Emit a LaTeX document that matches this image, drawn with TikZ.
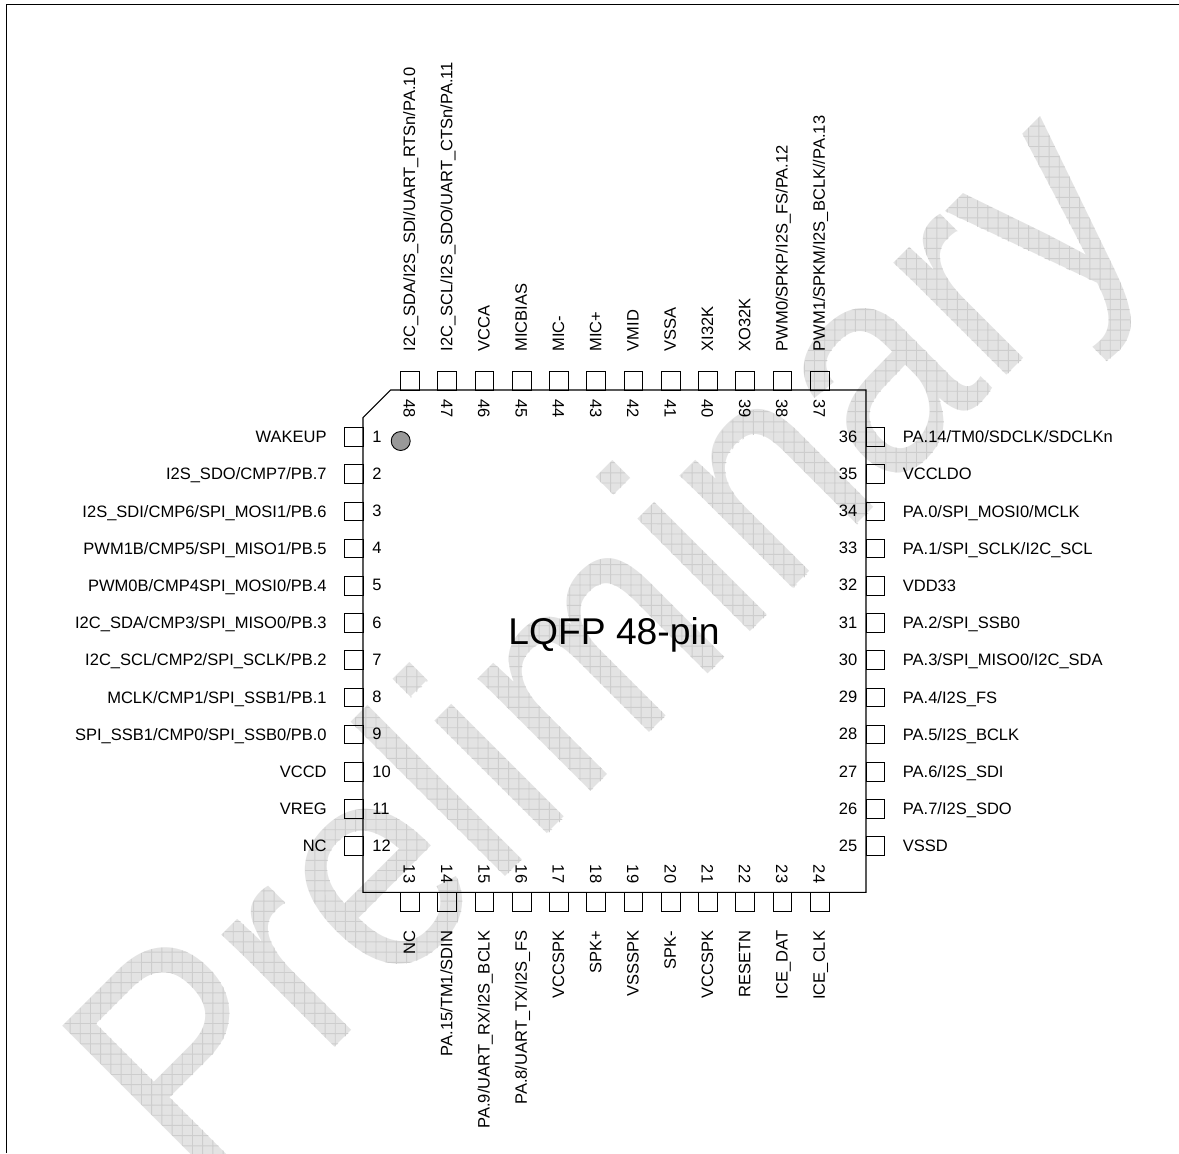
\documentclass[tikz,border=0pt]{standalone}
\usepackage{fontspec}
\setmainfont{Liberation Sans}
\usepackage{color}
\definecolor{WmFill}{RGB}{227,227,227}
\definecolor{WmGrid}{RGB}{205,205,205}
\definecolor{DotFill}{RGB}{153,153,153}
\tikzset{
  pinbox/.style={draw=black, line width=0.5pt, inner sep=0pt, minimum size=0.372cm},
  pintext/.style={inner sep=0pt, text height=7pt, text depth=0.8pt, font=\fontsize{9.4}{11}\selectfont},
  pinnum/.style={inner sep=0pt, font=\fontsize{9.4}{11}\selectfont},
}

\begin{document}
\begin{tikzpicture}[x=0.02cm, y=-0.02cm]
  \useasboundingbox (0, 0) rectangle (1179, 1153);

  % watermark: painted text, then the grid through it
  \node[transform shape, rotate=45, yscale=1.11, anchor=base west, inner sep=0pt, text=WmFill, font=\fontsize{154.5}{155}\selectfont] (wmark) at (192.5, 1189) {\special{pdf:code 4 Tr}\rlap{Preliminary}\special{pdf:code 0 Tr}\tikz[overlay, yscale=0.901, rotate=-45, shift={(-0.018cm,0.03cm)}]{\draw[WmGrid, line width=0.5pt] (-30cm,-30cm) grid[step=0.204cm] (30cm,30cm);}};

  \draw[black, line width=0.9pt] (6.4, 1153) -- (6.4, 4.4) -- (1179, 4.4);

  \draw[black, line width=0.6pt] (390.7, 390) -- (866, 390) -- (866, 892.3) -- (363, 892.3) -- (363, 417.5) -- cycle;
  \node[draw=black, line width=0.5pt, fill=DotFill, circle, inner sep=0pt, minimum size=0.38cm] (dot) at (400.7, 441) {};
  \node[inner sep=0pt, font=\fontsize{21.2}{24}\selectfont] (title) at (614, 635) {LQFP 48-pin};

  % left side
  \node[pinbox] (p1)  at (354, 437.0) {}; \node[pinnum, anchor=west] (n1)  at (372, 436.5) {1};  \node[pintext, anchor=east] (l1)  at (327, 437.2) {WAKEUP};
  \node[pinbox] (p2)  at (354, 474.2) {}; \node[pinnum, anchor=west] (n2)  at (372, 473.7) {2};  \node[pintext, anchor=east] (l2)  at (327, 474.4) {I2S\_SDO/CMP7/PB.7};
  \node[pinbox] (p3)  at (354, 511.4) {}; \node[pinnum, anchor=west] (n3)  at (372, 510.9) {3};  \node[pintext, anchor=east] (l3)  at (327, 511.6) {I2S\_SDI/CMP6/SPI\_MOSI1/PB.6};
  \node[pinbox] (p4)  at (354, 548.6) {}; \node[pinnum, anchor=west] (n4)  at (372, 548.1) {4};  \node[pintext, anchor=east] (l4)  at (327, 548.8) {PWM1B/CMP5/SPI\_MISO1/PB.5};
  \node[pinbox] (p5)  at (354, 585.8) {}; \node[pinnum, anchor=west] (n5)  at (372, 585.3) {5};  \node[pintext, anchor=east] (l5)  at (327, 586.0) {PWM0B/CMP4SPI\_MOSI0/PB.4};
  \node[pinbox] (p6)  at (354, 623.0) {}; \node[pinnum, anchor=west] (n6)  at (372, 622.5) {6};  \node[pintext, anchor=east] (l6)  at (327, 623.2) {I2C\_SDA/CMP3/SPI\_MISO0/PB.3};
  \node[pinbox] (p7)  at (354, 660.2) {}; \node[pinnum, anchor=west] (n7)  at (372, 659.7) {7};  \node[pintext, anchor=east] (l7)  at (327, 660.4) {I2C\_SCL/CMP2/SPI\_SCLK/PB.2};
  \node[pinbox] (p8)  at (354, 697.4) {}; \node[pinnum, anchor=west] (n8)  at (372, 696.9) {8};  \node[pintext, anchor=east] (l8)  at (327, 697.6) {MCLK/CMP1/SPI\_SSB1/PB.1};
  \node[pinbox] (p9)  at (354, 734.6) {}; \node[pinnum, anchor=west] (n9)  at (372, 734.1) {9};  \node[pintext, anchor=east] (l9)  at (327, 734.8) {SPI\_SSB1/CMP0/SPI\_SSB0/PB.0};
  \node[pinbox] (p10) at (354, 771.8) {}; \node[pinnum, anchor=west] (n10) at (372, 771.3) {10}; \node[pintext, anchor=east] (l10) at (327, 772.0) {VCCD};
  \node[pinbox] (p11) at (354, 809.0) {}; \node[pinnum, anchor=west] (n11) at (372, 808.5) {11}; \node[pintext, anchor=east] (l11) at (327, 809.2) {VREG};
  \node[pinbox] (p12) at (354, 846.2) {}; \node[pinnum, anchor=west] (n12) at (372, 845.7) {12}; \node[pintext, anchor=east] (l12) at (327, 846.4) {NC};

  % bottom side
  \node[pinbox] (p13) at (409.9, 902) {}; \node[pinnum, rotate=-90] (n13) at (409.4, 874) {13}; \node[pintext, rotate=90, anchor=east] (l13) at (409.6, 930.5) {NC};
  \node[pinbox] (p14) at (447.2, 902) {}; \node[pinnum, rotate=-90] (n14) at (446.7, 874) {14}; \node[pintext, rotate=90, anchor=east] (l14) at (446.9, 930.5) {PA.15/TM1/SDIN};
  \node[pinbox] (p15) at (484.4, 902) {}; \node[pinnum, rotate=-90] (n15) at (483.9, 874) {15}; \node[pintext, rotate=90, anchor=east] (l15) at (484.1, 930.5) {PA.9/UART\_RX/I2S\_BCLK};
  \node[pinbox] (p16) at (521.7, 902) {}; \node[pinnum, rotate=-90] (n16) at (521.2, 874) {16}; \node[pintext, rotate=90, anchor=east] (l16) at (521.4, 930.5) {PA.8/UART\_TX/I2S\_FS};
  \node[pinbox] (p17) at (558.9, 902) {}; \node[pinnum, rotate=-90] (n17) at (558.4, 874) {17}; \node[pintext, rotate=90, anchor=east] (l17) at (558.6, 930.5) {VCCSPK};
  \node[pinbox] (p18) at (596.2, 902) {}; \node[pinnum, rotate=-90] (n18) at (595.7, 874) {18}; \node[pintext, rotate=90, anchor=east] (l18) at (595.9, 930.5) {SPK+};
  \node[pinbox] (p19) at (633.4, 902) {}; \node[pinnum, rotate=-90] (n19) at (632.9, 874) {19}; \node[pintext, rotate=90, anchor=east] (l19) at (633.1, 930.5) {VSSSPK};
  \node[pinbox] (p20) at (670.7, 902) {}; \node[pinnum, rotate=-90] (n20) at (670.2, 874) {20}; \node[pintext, rotate=90, anchor=east] (l20) at (670.4, 930.5) {SPK-};
  \node[pinbox] (p21) at (707.9, 902) {}; \node[pinnum, rotate=-90] (n21) at (707.4, 874) {21}; \node[pintext, rotate=90, anchor=east] (l21) at (707.6, 930.5) {VCCSPK};
  \node[pinbox] (p22) at (745.2, 902) {}; \node[pinnum, rotate=-90] (n22) at (744.7, 874) {22}; \node[pintext, rotate=90, anchor=east] (l22) at (744.9, 930.5) {RESETN};
  \node[pinbox] (p23) at (782.4, 902) {}; \node[pinnum, rotate=-90] (n23) at (781.9, 874) {23}; \node[pintext, rotate=90, anchor=east] (l23) at (782.1, 930.5) {ICE\_DAT};
  \node[pinbox] (p24) at (819.7, 902) {}; \node[pinnum, rotate=-90] (n24) at (819.2, 874) {24}; \node[pintext, rotate=90, anchor=east] (l24) at (819.4, 930.5) {ICE\_CLK};

  % right side
  \node[pinbox] (p25) at (875.5, 846.2) {}; \node[pinnum] (n25) at (848, 845.7) {25}; \node[pintext, anchor=west] (l25) at (902.5, 846.4) {VSSD};
  \node[pinbox] (p26) at (875.5, 809.0) {}; \node[pinnum] (n26) at (848, 808.5) {26}; \node[pintext, anchor=west] (l26) at (902.5, 809.2) {PA.7/I2S\_SDO};
  \node[pinbox] (p27) at (875.5, 771.8) {}; \node[pinnum] (n27) at (848, 771.3) {27}; \node[pintext, anchor=west] (l27) at (902.5, 772.0) {PA.6/I2S\_SDI};
  \node[pinbox] (p28) at (875.5, 734.6) {}; \node[pinnum] (n28) at (848, 734.1) {28}; \node[pintext, anchor=west] (l28) at (902.5, 734.8) {PA.5/I2S\_BCLK};
  \node[pinbox] (p29) at (875.5, 697.4) {}; \node[pinnum] (n29) at (848, 696.9) {29}; \node[pintext, anchor=west] (l29) at (902.5, 697.6) {PA.4/I2S\_FS};
  \node[pinbox] (p30) at (875.5, 660.2) {}; \node[pinnum] (n30) at (848, 659.7) {30}; \node[pintext, anchor=west] (l30) at (902.5, 660.4) {PA.3/SPI\_MISO0/I2C\_SDA};
  \node[pinbox] (p31) at (875.5, 623.0) {}; \node[pinnum] (n31) at (848, 622.5) {31}; \node[pintext, anchor=west] (l31) at (902.5, 623.2) {PA.2/SPI\_SSB0};
  \node[pinbox] (p32) at (875.5, 585.8) {}; \node[pinnum] (n32) at (848, 585.3) {32}; \node[pintext, anchor=west] (l32) at (902.5, 586.0) {VDD33};
  \node[pinbox] (p33) at (875.5, 548.6) {}; \node[pinnum] (n33) at (848, 548.1) {33}; \node[pintext, anchor=west] (l33) at (902.5, 548.8) {PA.1/SPI\_SCLK/I2C\_SCL};
  \node[pinbox] (p34) at (875.5, 511.4) {}; \node[pinnum] (n34) at (848, 510.9) {34}; \node[pintext, anchor=west] (l34) at (902.5, 511.6) {PA.0/SPI\_MOSI0/MCLK};
  \node[pinbox] (p35) at (875.5, 474.2) {}; \node[pinnum] (n35) at (848, 473.7) {35}; \node[pintext, anchor=west] (l35) at (902.5, 474.4) {VCCLDO};
  \node[pinbox] (p36) at (875.5, 437.0) {}; \node[pinnum] (n36) at (848, 436.5) {36}; \node[pintext, anchor=west] (l36) at (902.5, 437.2) {PA.14/TM0/SDCLK/SDCLKn};

  % top side
  \node[pinbox] (p37) at (819.7, 381) {}; \node[pinnum, rotate=-90] (n37) at (819.2, 408.5) {37}; \node[pintext, rotate=90, anchor=west] (l37) at (819.4, 351.7) {PWM1/SPKM/I2S\_BCLK//PA.13};
  \node[pinbox] (p38) at (782.4, 381) {}; \node[pinnum, rotate=-90] (n38) at (781.9, 408.5) {38}; \node[pintext, rotate=90, anchor=west] (l38) at (782.1, 351.7) {PWM0/SPKP/I2S\_FS/PA.12};
  \node[pinbox] (p39) at (745.2, 381) {}; \node[pinnum, rotate=-90] (n39) at (744.7, 408.5) {39}; \node[pintext, rotate=90, anchor=west] (l39) at (744.9, 351.7) {XO32K};
  \node[pinbox] (p40) at (707.9, 381) {}; \node[pinnum, rotate=-90] (n40) at (707.4, 408.5) {40}; \node[pintext, rotate=90, anchor=west] (l40) at (707.6, 351.7) {XI32K};
  \node[pinbox] (p41) at (670.7, 381) {}; \node[pinnum, rotate=-90] (n41) at (670.2, 408.5) {41}; \node[pintext, rotate=90, anchor=west] (l41) at (670.4, 351.7) {VSSA};
  \node[pinbox] (p42) at (633.4, 381) {}; \node[pinnum, rotate=-90] (n42) at (632.9, 408.5) {42}; \node[pintext, rotate=90, anchor=west] (l42) at (633.1, 351.7) {VMID};
  \node[pinbox] (p43) at (596.2, 381) {}; \node[pinnum, rotate=-90] (n43) at (595.7, 408.5) {43}; \node[pintext, rotate=90, anchor=west] (l43) at (595.9, 351.7) {MIC+};
  \node[pinbox] (p44) at (558.9, 381) {}; \node[pinnum, rotate=-90] (n44) at (558.4, 408.5) {44}; \node[pintext, rotate=90, anchor=west] (l44) at (558.6, 351.7) {MIC-};
  \node[pinbox] (p45) at (521.7, 381) {}; \node[pinnum, rotate=-90] (n45) at (521.2, 408.5) {45}; \node[pintext, rotate=90, anchor=west] (l45) at (521.4, 351.7) {MICBIAS};
  \node[pinbox] (p46) at (484.4, 381) {}; \node[pinnum, rotate=-90] (n46) at (483.9, 408.5) {46}; \node[pintext, rotate=90, anchor=west] (l46) at (484.1, 351.7) {VCCA};
  \node[pinbox] (p47) at (447.2, 381) {}; \node[pinnum, rotate=-90] (n47) at (446.7, 408.5) {47}; \node[pintext, rotate=90, anchor=west] (l47) at (446.9, 351.7) {I2C\_SCL/I2S\_SDO/UART\_CTSn/PA.11};
  \node[pinbox] (p48) at (409.9, 381) {}; \node[pinnum, rotate=-90] (n48) at (409.4, 408.5) {48}; \node[pintext, rotate=90, anchor=west] (l48) at (409.6, 351.7) {I2C\_SDA/I2S\_SDI/UART\_RTSn/PA.10};
\end{tikzpicture}
\end{document}
